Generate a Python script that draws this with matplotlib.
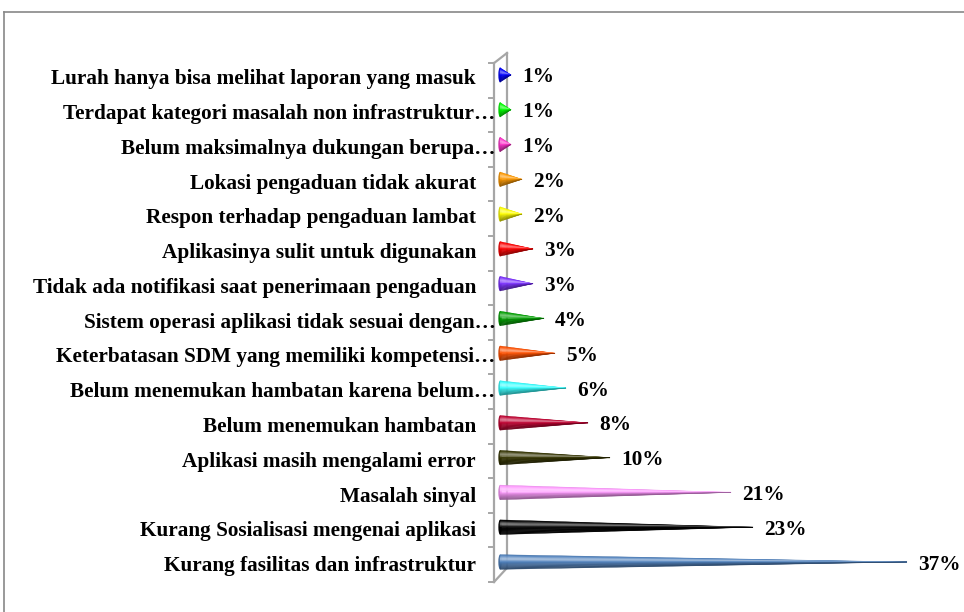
import numpy as np
import matplotlib
matplotlib.use("Agg")
import matplotlib.pyplot as plt
from matplotlib.patches import Polygon, Ellipse
from matplotlib.lines import Line2D
from matplotlib.colors import to_rgb

# ---- data (bottom to top) ----
categories = [
    "Kurang fasilitas dan infrastruktur",
    "Kurang Sosialisasi mengenai aplikasi",
    "Masalah sinyal",
    "Aplikasi masih mengalami error",
    "Belum menemukan hambatan",
    "Belum menemukan hambatan karena belum…",
    "Keterbatasan SDM yang memiliki kompetensi…",
    "Sistem operasi aplikasi tidak sesuai dengan…",
    "Tidak ada notifikasi saat penerimaan pengaduan",
    "Aplikasinya sulit untuk digunakan",
    "Respon terhadap pengaduan lambat",
    "Lokasi pengaduan tidak akurat",
    "Belum maksimalnya dukungan berupa…",
    "Terdapat kategori masalah non infrastruktur…",
    "Lurah hanya bisa melihat laporan yang masuk",
]
values = [37, 23, 21, 10, 8, 6, 5, 4, 3, 3, 2, 2, 1, 1, 1]
value_labels = ["37%", "23%", "21%", "10%", "8%", "6%", "5%", "4%", "3%", "3%",
                "2%", "2%", "1%", "1%", "1%"]
colors = ["#4F81BD", "#000000", "#FF99FF", "#333300", "#C00030", "#33FFFF",
          "#FF5000", "#00A000", "#7B2FFF", "#FF0000", "#FFFF00", "#FF9900",
          "#FF33CC", "#00FF00", "#0000FF"]

W, H = 964, 612
fig = plt.figure(figsize=(W / 100, H / 100), dpi=100)
ax = fig.add_axes([0, 0, 1, 1])
ax.set_xlim(-500 / 11, (W - 500) / 11)
ax.set_ylim((562 - H) / 34.79, 562 / 34.79)
ax.axis("off")

font = dict(family=["Liberation Serif", "DejaVu Serif"], fontweight="bold",
            fontsize=15.3, color="black")

# ---- 3D wall (axis) ----
wall_c = "#A6A6A6"
fx, bx = -0.545, 0.636
f_lo, f_hi = -0.575, 14.34
b_lo, b_hi = -0.17, 14.63
ax.plot([fx, fx], [f_lo, f_hi], color=wall_c, lw=1.6, zorder=1)
ax.plot([bx, bx], [b_lo, b_hi], color=wall_c, lw=1.6, zorder=1)
ax.plot([fx, bx], [f_hi, b_hi], color=wall_c, lw=1.6, zorder=1)
ax.plot([fx, bx], [f_lo, b_lo], color=wall_c, lw=1.6, zorder=1)
for k in range(len(categories) + 1):
    yk = f_lo + k * (f_hi - f_lo) / len(categories)
    ax.plot([-1.0, fx], [yk, yk], color=wall_c, lw=1.4, zorder=1)


def shade(c, t):
    s = (0.45 * np.exp(-((t - 0.3) / 0.15) ** 2)
         - 0.45 * np.clip((t - 0.45) / 0.55, 0, 1)
         - 0.12 * np.clip((0.15 - t) / 0.15, 0, 1))
    c = np.array(c)
    if s >= 0:
        return tuple(c + (1 - c) * s)
    return tuple(c * (1 + s))


h = 0.42
N = 16
for i, (v, col) in enumerate(zip(values, colors)):
    rgb = to_rgb(col)
    top = i + h / 2
    # base ellipse
    ax.add_patch(Ellipse((0, i), 0.3, h, facecolor=shade(rgb, 0.7),
                         edgecolor="none", zorder=2))
    for j in range(N):
        y0 = top - h * j / N
        y1 = top - h * (j + 1) / N
        t = (j + 0.5) / N
        ax.add_patch(Polygon([(0, y0), (0, y1), (v, i)], closed=True,
                             facecolor=shade(rgb, t), edgecolor=shade(rgb, t),
                             lw=0.3, zorder=3))
    ax.text(v + 1.0, i, value_labels[i], ha="left", va="center_baseline", **font)

# ---- category labels ----
for i, cat in enumerate(categories):
    x = -0.4 if cat.endswith("…") else -2.18
    ax.text(x, i - 0.05, cat, ha="right", va="center_baseline", **font)

# ---- outer frame ----
fc = "#878787"
fig.add_artist(Line2D([4 / W, 4 / W], [0, 1 - 12 / H], color=fc, lw=1.2,
                      transform=fig.transFigure))
fig.add_artist(Line2D([4 / W, 1], [1 - 12 / H, 1 - 12 / H], color=fc, lw=1.2,
                      transform=fig.transFigure))

fig.savefig("out.png", dpi=100, facecolor="white")
